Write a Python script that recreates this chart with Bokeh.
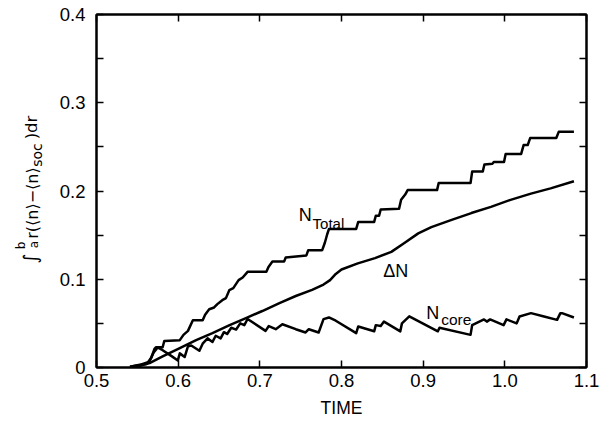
from math import pi
from bokeh.plotting import figure
from bokeh.layouts import row
from bokeh.models import Range1d, LinearAxis, FixedTicker, Label
from bokeh.core.properties import value
from bokeh.embed import file_html
from bokeh.resources import INLINE

# ---------------- data ----------------
X_TICKS = [0.5, 0.6, 0.7, 0.8, 0.9, 1.0, 1.1]
X_TICK_LABELS = ["0.5", "0.6", "0.7", "0.8", "0.9", "1.0", "1.1"]
Y_TICKS = [0.0, 0.1, 0.2, 0.3, 0.4]
Y_TICK_LABELS = ["0", "0.1", "0.2", "0.3", "0.4"]
Y_MINOR = [0.05, 0.15, 0.25, 0.35]

NTOT_X = [0.541, 0.553, 0.563, 0.567, 0.571, 0.573, 0.581, 0.583, 0.602, 0.605, 0.6065,
          0.612, 0.618, 0.630, 0.633, 0.638, 0.644, 0.648, 0.654, 0.6585, 0.6626, 0.6675,
          0.674, 0.679, 0.685, 0.708, 0.7106, 0.7154, 0.7297, 0.7317, 0.757, 0.7593, 0.7764,
          0.7797, 0.7825, 0.7846, 0.818, 0.8205, 0.840, 0.842, 0.846, 0.848, 0.8705, 0.873,
          0.878, 0.881, 0.917, 0.919, 0.958, 0.960, 0.973, 0.975, 0.985, 0.9865, 0.999,
          1.001, 1.020, 1.023, 1.028, 1.031, 1.063, 1.066, 1.0846]
NTOT_Y = [0.001, 0.003, 0.006, 0.011, 0.021, 0.023, 0.023, 0.030, 0.031, 0.035, 0.037,
          0.0415, 0.0536, 0.0536, 0.0597, 0.066, 0.068, 0.0718, 0.0763, 0.0786, 0.0876, 0.0899,
          0.099, 0.102, 0.1084, 0.1084, 0.114, 0.120, 0.120, 0.1246, 0.127, 0.133, 0.133,
          0.1416, 0.151, 0.1568, 0.157, 0.165, 0.165, 0.172, 0.172, 0.179, 0.180, 0.190,
          0.196, 0.201, 0.201, 0.209, 0.209, 0.222, 0.222, 0.230, 0.231, 0.233, 0.233,
          0.242, 0.242, 0.252, 0.252, 0.260, 0.260, 0.267, 0.267]

DN_X = [0.541, 0.553, 0.565, 0.581, 0.602, 0.622, 0.642, 0.663, 0.683, 0.703, 0.724,
        0.744, 0.764, 0.778, 0.786, 0.793, 0.800, 0.820, 0.841, 0.861, 0.877, 0.894,
        0.910, 0.934, 0.959, 0.983, 1.007, 1.032, 1.056, 1.0846]
DN_Y = [0.0, 0.002, 0.005, 0.0125, 0.022, 0.031, 0.039, 0.048, 0.056, 0.064, 0.073,
        0.081, 0.088, 0.094, 0.099, 0.106, 0.111, 0.118, 0.124, 0.131, 0.141, 0.152,
        0.159, 0.167, 0.175, 0.182, 0.190, 0.197, 0.203, 0.211]

NCORE_X = [0.541, 0.561, 0.565, 0.570, 0.575, 0.581, 0.5915, 0.5996, 0.602, 0.608, 0.612,
           0.616, 0.626, 0.630, 0.636, 0.642, 0.646, 0.652, 0.656, 0.660, 0.665, 0.671,
           0.676, 0.681, 0.685, 0.707, 0.711, 0.7195, 0.7276, 0.744, 0.756, 0.760, 0.772,
           0.778, 0.7846, 0.793, 0.818, 0.8205, 0.840, 0.842, 0.848, 0.852, 0.872, 0.874,
           0.883, 0.918, 0.920, 0.958, 0.960, 0.9745, 0.978, 0.982, 0.9985, 1.002, 1.0145,
           1.018, 1.032, 1.048, 1.064, 1.068, 1.070, 1.0846]
NCORE_Y = [0.001, 0.004, 0.007, 0.017, 0.0227, 0.0196, 0.0132, 0.008, 0.016, 0.012, 0.024,
           0.025, 0.019, 0.027, 0.033, 0.029, 0.036, 0.033, 0.040, 0.038, 0.045, 0.043,
           0.050, 0.048, 0.055, 0.0415, 0.047, 0.0434, 0.049, 0.0434, 0.0397, 0.0434, 0.0397,
           0.0548, 0.0567, 0.053, 0.039, 0.0465, 0.041, 0.048, 0.047, 0.052, 0.041, 0.050,
           0.058, 0.041, 0.045, 0.037, 0.048, 0.0545, 0.052, 0.0545, 0.048, 0.0545, 0.050,
           0.0578, 0.0616, 0.0578, 0.054, 0.0616, 0.0616, 0.0567]

# y-axis title pieces (rendered one after another along a rotated line)
YT_TEXT = ["\u222b", "b", "a", "r(\u27e8n\u27e9\u2212\u27e8n\u27e9", "soc", ")dr"]

FONT = "Liberation Sans"
TFONT = "DejaVu Sans"
TOTAL_H = 425
LEFT_W = 56
B_TOP, B_BOT = 14, 58

p = figure(width=608 - LEFT_W, height=TOTAL_H, x_range=Range1d(0.5, 1.1), y_range=Range1d(0, 0.4),
           output_backend="svg", toolbar_location=None,
           min_border_left=94 - LEFT_W, min_border_right=22, min_border_top=B_TOP,
           min_border_bottom=B_BOT)
p.xgrid.visible = False
p.ygrid.visible = False
p.outline_line_color = "black"
p.outline_line_width = 2
p.background_fill_color = "white"
p.border_fill_color = "white"


def style(ax, ticker, labels, standoff, size="18.5px"):
    ax.ticker = ticker
    ax.axis_line_color = "black"
    ax.axis_line_width = 2
    ax.major_tick_in = 7
    ax.major_tick_out = 0
    ax.minor_tick_in = 7
    ax.minor_tick_out = 0
    ax.major_tick_line_width = 1.5
    ax.minor_tick_line_width = 1.5
    ax.major_tick_line_color = "black"
    ax.minor_tick_line_color = "black"
    ax.major_label_text_font = FONT
    ax.major_label_text_font_size = size
    ax.major_label_text_color = "black"
    ax.major_label_standoff = standoff
    ax.major_label_overrides = labels


style(p.xaxis[0], FixedTicker(ticks=X_TICKS, minor_ticks=[]),
      {t: l for t, l in zip(X_TICKS, X_TICK_LABELS)}, 6)
style(p.yaxis[0], FixedTicker(ticks=Y_TICKS, minor_ticks=Y_MINOR),
      {t: l for t, l in zip(Y_TICKS, Y_TICK_LABELS)}, 11)
p.xaxis[0].axis_label = "TIME"
p.xaxis[0].axis_label_text_font = FONT
p.xaxis[0].axis_label_text_font_size = "17.5px"
p.xaxis[0].axis_label_text_font_style = "normal"
p.xaxis[0].axis_label_text_color = "black"
p.xaxis[0].axis_label_standoff = 8

top = LinearAxis()
style(top, FixedTicker(ticks=X_TICKS, minor_ticks=[]), {t: "" for t in X_TICKS}, 0, "0px")
p.add_layout(top, "above")
right = LinearAxis()
style(right, FixedTicker(ticks=Y_TICKS, minor_ticks=Y_MINOR), {t: "" for t in Y_TICKS}, 0, "0px")
p.add_layout(right, "right")

for xs, ys in [(NTOT_X, NTOT_Y), (DN_X, DN_Y), (NCORE_X, NCORE_Y)]:
    p.line(xs, ys, line_color="black", line_width=2.5, line_join="round")


def lab(x, y, text, size):
    p.add_layout(Label(x=x, y=y, text=text, text_font=FONT, text_font_size=size,
                       text_color="black", text_align="left", text_baseline="alphabetic"))


# curve labels
lab(0.7476, 0.1730, "N", "18px")
lab(0.7646, 0.1628, "Total", "15px")
lab(0.8512, 0.1096, "\u0394N", "18px")
lab(0.9037, 0.0623, "N", "18px")
lab(0.9220, 0.0548, "core", "15.5px")

# left strip holding the rotated y-axis title; its frame matches the main frame
# vertically and its y range is set so that y = TOTAL_H - (pixel row from top)
q = figure(width=LEFT_W, height=TOTAL_H, x_range=Range1d(0, LEFT_W),
           y_range=Range1d(B_BOT, TOTAL_H - B_TOP),
           x_axis_type=None, y_axis_type=None, output_backend="svg", toolbar_location=None,
           min_border_left=0, min_border_right=0, min_border_top=B_TOP, min_border_bottom=B_BOT)
q.xgrid.visible = False
q.ygrid.visible = False
q.outline_line_color = None
q.background_fill_color = "white"
q.border_fill_color = "white"

yt_cx = [29, 20, 33, 31.5, 36, 31.3]          # centre across
yt_cy = [258, 245, 244, 202.5, 154.5, 127]    # centre along (from top)
yt_size = ["19px", "12px", "12px", "16px", "14px", "16.5px"]
for t, cx, cy, fs in zip(YT_TEXT, yt_cx, yt_cy, yt_size):
    q.text(x=[cx], y=[TOTAL_H - cy], text=[t], angle=pi / 2,
           text_font=value(TFONT), text_font_size=value(fs), text_color="black",
           text_align="center", text_baseline="middle")

layout = row(q, p)
open("out.html", "w").write(file_html(layout, INLINE))
